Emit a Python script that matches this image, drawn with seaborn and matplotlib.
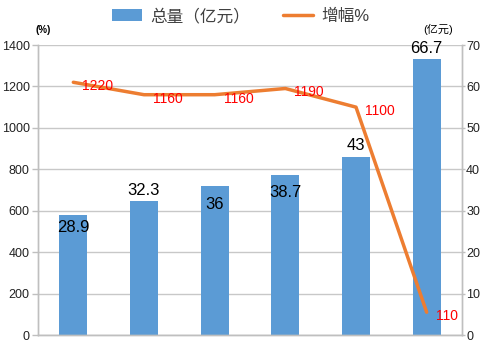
import matplotlib
matplotlib.use("Agg")
import matplotlib.pyplot as plt
import seaborn as sns
import pandas as pd
from matplotlib.patches import Patch
from matplotlib.lines import Line2D

categories = ["1", "2", "3", "4", "5", "6"]
total_values = [28.9, 32.3, 36, 38.7, 43, 66.7]      # 总量（亿元）, right axis
growth_values = [1220, 1160, 1160, 1190, 1100, 110]  # 增幅%, left axis
left_ticks = [0, 200, 400, 600, 800, 1000, 1200, 1400]
right_ticks = [0, 10, 20, 30, 40, 50, 60, 70]

df = pd.DataFrame({"cat": categories, "total": total_values, "growth": growth_values})

sns.set_theme(style="white")
plt.rcParams["font.family"] = ["Liberation Sans", "Noto Sans CJK SC", "DejaVu Sans"]

BAR = "#5b9bd5"
LINE = "#ed7d31"
GRID = "#c8c8c8"
TXT = "#404040"

fig = plt.figure(figsize=(4.82, 3.47), dpi=100)
ax = fig.add_axes([38 / 482, 1 - 335 / 347, (462 - 38) / 482, (335 - 45) / 347])
ax2 = ax.twinx()

# bars on right axis
sns.barplot(data=df, x="cat", y="total", ax=ax2, color=BAR, width=0.4,
            saturation=1, edgecolor="none", zorder=2)
ax2.set_ylim(0, 70)
ax2.set_yticks(right_ticks)
ax2.grid(True, axis="y", color=GRID, linewidth=1)
ax2.set_axisbelow(True)

# line on left axis, drawn above
sns.lineplot(data=df, x="cat", y="growth", ax=ax, color=LINE, linewidth=2.5,
             sort=False, zorder=5)
ax.set_ylim(0, 1400)
ax.set_yticks(left_ticks)
ax.grid(False)
ax.set_zorder(ax2.get_zorder() + 1)
ax.patch.set_visible(False)

for a in (ax, ax2):
    a.set_xlim(-0.5, len(categories) - 0.5)
    a.set_xlabel("")
    a.set_ylabel("")
    a.set_xticks([])
    for s in a.spines.values():
        s.set_color("#bfbfbf")
        s.set_linewidth(1)
    a.spines["top"].set_visible(False)
    a.tick_params(axis="y", length=4, width=1, color="#bfbfbf",
                  labelsize=9, labelcolor="#222222", pad=2)
ax.tick_params(axis="y", left=True, right=False)
ax2.tick_params(axis="y", right=True, left=False, length=2, pad=1)

# bar labels
bar_offsets = [-12, 11, -19, -18, 11, 10]
for i, (v, off) in enumerate(zip(total_values, bar_offsets)):
    ax2.annotate(f"{v:g}", (i, v), xytext=(0, off), textcoords="offset pixels",
                 ha="center", va="center", fontsize=12, color="black", zorder=6)

# line labels
for i, v in enumerate(growth_values):
    ax.annotate(f"{v}", (i, v), xytext=(9, -4), textcoords="offset pixels",
                ha="left", va="center", fontsize=10, color="red", zorder=7)

# unit labels
fig.text(36 / 482, 1 - 30 / 347, "(%)", fontsize=7, fontweight="bold",
         color="black", ha="left", va="center")
fig.text(438 / 482, 1 - 29 / 347, "(亿元)", fontsize=8, color="black",
         ha="center", va="center")

handles = [Patch(facecolor=BAR, edgecolor="none"),
           Line2D([0], [0], color=LINE, linewidth=2.5)]
fig.legend(handles, ["总量（亿元）", "增幅%"], loc="upper center",
           bbox_to_anchor=(0.5, 1.02), ncol=2, frameon=False, fontsize=12,
           labelcolor=TXT, handlelength=1.8, handleheight=0.7,
           columnspacing=2.0, handletextpad=0.5)

fig.savefig("out.png", dpi=100)
